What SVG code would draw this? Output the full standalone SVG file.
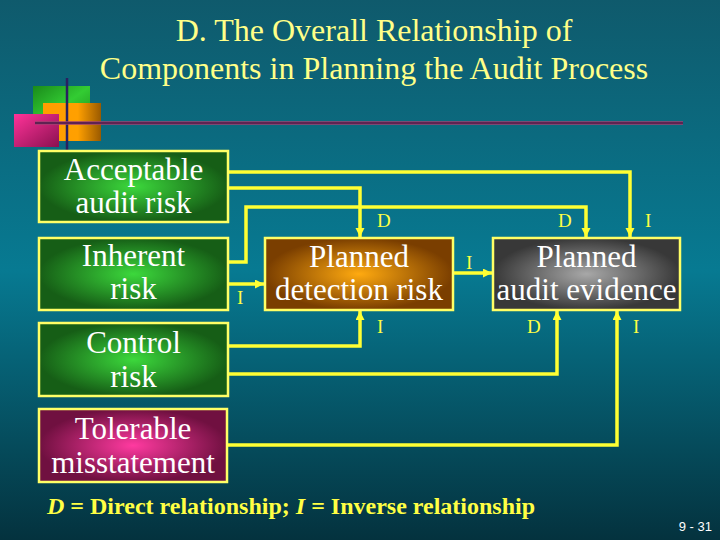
<svg xmlns="http://www.w3.org/2000/svg" width="720" height="540" viewBox="0 0 720 540" font-family="Liberation Serif, serif">
<defs>
<linearGradient id="bg" x1="0" y1="0" x2="0" y2="1">
<stop offset="0" stop-color="#0f5a6c"/>
<stop offset="0.5" stop-color="#077a92"/>
<stop offset="1" stop-color="#04323e"/>
</linearGradient>
<radialGradient id="gGreen"><stop offset="0" stop-color="#3cd83c"/><stop offset="1" stop-color="#165e16"/></radialGradient>
<radialGradient id="gOrange"><stop offset="0" stop-color="#ffaa10"/><stop offset="1" stop-color="#7a3e00"/></radialGradient>
<radialGradient id="gGray"><stop offset="0" stop-color="#a8a8a8"/><stop offset="1" stop-color="#383838"/></radialGradient>
<radialGradient id="gPink"><stop offset="0" stop-color="#ff3aa0"/><stop offset="1" stop-color="#701040"/></radialGradient>
<linearGradient id="lgGreen" x1="0" y1="0" x2="1" y2="1"><stop offset="0" stop-color="#1a8a1a"/><stop offset="0.5" stop-color="#33cc33"/><stop offset="1" stop-color="#1a8a1a"/></linearGradient>
<linearGradient id="lgOrange" x1="0" y1="0" x2="1" y2="0"><stop offset="0" stop-color="#ff9d00"/><stop offset="0.6" stop-color="#ffa000"/><stop offset="1" stop-color="#9a5a00"/></linearGradient>
<linearGradient id="lgPink" x1="0" y1="0" x2="1" y2="1"><stop offset="0" stop-color="#ff3399"/><stop offset="1" stop-color="#8a1050"/></linearGradient>
<marker id="arr" markerUnits="userSpaceOnUse" markerWidth="10" markerHeight="10" refX="9" refY="4.5" orient="auto">
<path d="M0,0 L9,4.5 L0,9 z" fill="#ffff33"/>
</marker>
<style>
.title{font-size:32px;fill:#ffff88;text-anchor:middle}
.box{stroke:#ffff66;stroke-width:2.5}
.nt{font-size:31px;fill:#ffffff;text-anchor:middle}
.lbl{font-size:19px;fill:#ffff44}
.conn{fill:none;stroke:#ffff33;stroke-width:3.5}
.legend{font-size:24px;font-weight:bold;fill:#ffff44}
</style>
</defs>
<rect x="0" y="0" width="720" height="540" fill="url(#bg)"/>
<g id="title">
<text class="title" x="374" y="41">D. The Overall Relationship of</text>
<text class="title" x="374" y="79">Components in Planning the Audit Process</text>
</g>
<g id="logo">
<rect x="33" y="86" width="57" height="42" fill="url(#lgGreen)"/>
<rect x="43" y="103" width="58" height="38" fill="url(#lgOrange)"/>
<rect x="14" y="114" width="45" height="33" fill="url(#lgPink)"/>
<line x1="67" y1="78" x2="67" y2="150" stroke="#2a2060" stroke-width="2.5"/>
<line x1="35" y1="123" x2="683" y2="123" stroke="#a04070" stroke-width="3.5"/>
<line x1="35" y1="123" x2="683" y2="123" stroke="#4a1a48" stroke-width="1.5"/>
</g>
<g id="connectors">
<polyline class="conn" points="228,172 630,172 630,237" marker-end="url(#arr)"/>
<polyline class="conn" points="228,188 360,188 360,237" marker-end="url(#arr)"/>
<polyline class="conn" points="228,262 246,262 246,207 586,207 586,237" marker-end="url(#arr)"/>
<polyline class="conn" points="228,284 264,284" marker-end="url(#arr)"/>
<polyline class="conn" points="228,346 360,346 360,311" marker-end="url(#arr)"/>
<polyline class="conn" points="228,374 557,374 557,311" marker-end="url(#arr)"/>
<polyline class="conn" points="227,445 617,445 617,311" marker-end="url(#arr)"/>
<polyline class="conn" points="453,273 492,273" marker-end="url(#arr)"/>
</g>
<g id="labels">
<text class="lbl" x="377" y="227">D</text>
<text class="lbl" x="558" y="227">D</text>
<text class="lbl" x="645" y="227">I</text>
<text class="lbl" x="466" y="269">I</text>
<text class="lbl" x="237" y="304">I</text>
<text class="lbl" x="377" y="333">I</text>
<text class="lbl" x="527" y="333">D</text>
<text class="lbl" x="633" y="333">I</text>
</g>
<g id="acceptable">
<rect class="box" x="39" y="151" width="189" height="71" fill="url(#gGreen)"/>
<text class="nt" x="133.5" y="180">Acceptable</text>
<text class="nt" x="133.5" y="213">audit risk</text>
</g>
<g id="inherent">
<rect class="box" x="39" y="238" width="189" height="72" fill="url(#gGreen)"/>
<text class="nt" x="133.5" y="266">Inherent</text>
<text class="nt" x="133.5" y="299">risk</text>
</g>
<g id="control">
<rect class="box" x="39" y="323" width="189" height="73" fill="url(#gGreen)"/>
<text class="nt" x="133.5" y="353">Control</text>
<text class="nt" x="133.5" y="387">risk</text>
</g>
<g id="tolerable">
<rect class="box" x="39" y="409" width="188" height="73" fill="url(#gPink)"/>
<text class="nt" x="133" y="439">Tolerable</text>
<text class="nt" x="133" y="473">misstatement</text>
</g>
<g id="detection">
<rect class="box" x="265" y="238" width="188" height="72" fill="url(#gOrange)"/>
<text class="nt" x="359" y="267">Planned</text>
<text class="nt" x="359" y="300">detection risk</text>
</g>
<g id="evidence">
<rect class="box" x="493" y="238" width="187" height="72" fill="url(#gGray)"/>
<text class="nt" x="586.5" y="267">Planned</text>
<text class="nt" x="586.5" y="300">audit evidence</text>
</g>
<g id="legend">
<text class="legend" x="47" y="514"><tspan font-style="italic">D</tspan> = Direct relationship; <tspan font-style="italic">I</tspan> = Inverse relationship</text>
<text x="712" y="531" font-family="Liberation Sans, sans-serif" font-size="13" fill="#ffffff" text-anchor="end">9 - 31</text>
</g>
</svg>
